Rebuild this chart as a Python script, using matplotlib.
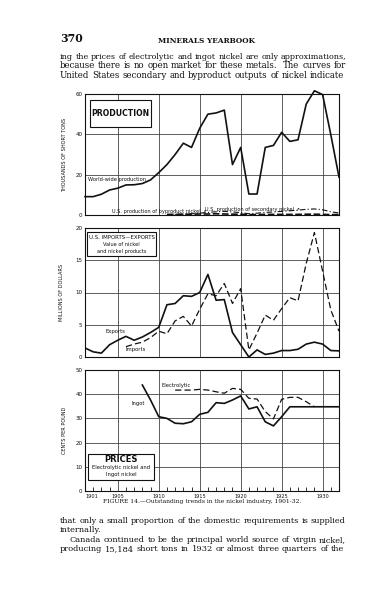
import matplotlib
matplotlib.use('Agg')
import matplotlib.pyplot as plt
import numpy as np

"""
Data read off the page (values estimated from the scan)
"""
years = list(range(1901, 1933))
world = [9.1, 9.1, 10.3, 12.4, 13.3, 14.9, 15.0, 15.6, 17.4, 21.0,
         25.0, 30.0, 35.6, 33.5, 43.0, 50.0, 50.6, 52.0, 25.0, 33.5,
         10.4, 10.4, 33.5, 34.5, 41.0, 36.5, 37.3, 55.0, 61.6, 59.7,
         39.8, 18.8]
us_years = list(range(1911, 1933))
secondary = [0.2, 0.3, 0.4, 0.6, 0.9, 1.3, 1.6, 1.8, 1.5, 1.2, 0.6,
             0.9, 1.3, 1.5, 1.8, 2.1, 2.4, 2.8, 3.0, 2.6, 1.6, 1.0]
byproduct = [0.3, 0.3, 0.4, 0.4, 0.5, 0.5, 0.6, 0.5, 0.4, 0.4, 0.2,
             0.2, 0.3, 0.3, 0.3, 0.3, 0.3, 0.4, 0.4, 0.3, 0.2, 0.2]

exports = [1.4, 0.8, 0.6, 1.9, 2.6, 3.2, 2.6, 3.1, 3.8, 4.6,
           8.1, 8.3, 9.5, 9.4, 10.0, 12.8, 8.8, 8.9, 3.8, 1.9,
           0.0, 1.1, 0.4, 0.6, 1.0, 1.0, 1.2, 2.0, 2.3, 2.0,
           1.0, 0.95]
imp_years = list(range(1906, 1933))
imports = [1.6, 2.0, 2.3, 3.0, 4.0, 3.6, 5.6, 6.3, 4.8, 7.4,
           9.8, 9.5, 11.4, 8.3, 10.6, 1.1, 3.7, 6.5, 5.7, 7.5,
           9.2, 8.7, 14.5, 19.3, 13.3, 7.3, 4.0]

ingot_years = list(range(1908, 1933))
ingot = [43.8, 37.6, 30.7, 30.0, 28.0, 27.8, 28.6, 31.7, 32.5, 36.5,
         36.2, 37.6, 39.3, 33.9, 34.8, 28.6, 26.9, 30.7, 34.8, 34.8,
         34.8, 34.8, 34.8, 34.8, 34.8]
elec_years = list(range(1912, 1930))
electrolytic = [41.7, 41.7, 41.7, 42.0, 41.7, 41.0, 40.4, 42.4, 42.0,
                38.3, 38.0, 32.8, 29.8, 37.9, 38.7, 38.7, 36.9, 34.8]

xtick_labels = ['1901', '1905', '1910', '1915', '1920', '1925', '1930']

"""
Page layout helpers (pixel coordinates of a 383x600 page)
"""
W, H = 383, 600
ink = '#111111'
serif = 'DejaVu Serif'
sans = 'DejaVu Sans'

fig = plt.figure(figsize=(W / 100, H / 100), dpi=100)
fig.patch.set_facecolor('white')

def box(x0, y0, x1, y1):
    return [x0 / W, 1 - y1 / H, (x1 - x0) / W, (y1 - y0) / H]

def px(x, y):
    return x / W, 1 - y / H

def panel(rect, ymax, ystep):
    ax = fig.add_axes(rect)
    ax.set_xlim(1901, 1932)
    ax.set_ylim(0, ymax)
    ax.set_xticks([1905, 1910, 1915, 1920, 1925, 1930])
    ax.set_yticks(np.arange(0, ymax + 0.1, ystep))
    ax.grid(True, color='#444444', lw=0.6)
    ax.tick_params(length=0, labelsize=4, pad=2, colors=ink)
    ax.set_xticklabels([])
    for s in ax.spines.values():
        s.set_linewidth(0.8)
        s.set_color(ink)
    return ax

def label_box(x0, y0, x1, y1):
    r = plt.Rectangle(px(x0, y1), (x1 - x0) / W, (y1 - y0) / H,
                      transform=fig.transFigure, fill=True, facecolor='white',
                      edgecolor=ink, lw=0.8, zorder=5)
    fig.add_artist(r)

# production
ax1 = panel(box(85, 94, 339, 215), 60, 20)
ax1.plot(years, world, color=ink, lw=1.2, clip_on=False)
ax1.plot(us_years, secondary, color=ink, lw=0.8, dashes=(5, 2, 1, 2))
ax1.plot(us_years, byproduct, color=ink, lw=1.2, dashes=(4, 1.5))
ax1.set_ylabel('THOUSANDS OF SHORT TONS', fontsize=3.6, labelpad=6, color=ink)
label_box(90, 100, 151, 127)
fig.text(*px(120.5, 114), 'PRODUCTION', fontsize=5.6, weight='bold',
         ha='center', va='center', family=sans, zorder=6, color=ink)
fig.text(*px(88, 180), 'World-wide production', fontsize=3.7, va='center', color=ink)
fig.text(*px(112, 211), 'U.S. production of byproduct nickel \u2197', fontsize=3.6,
         va='center', color=ink)
fig.text(*px(205, 209), 'U.S. production of secondary nickel \u2197', fontsize=3.6,
         va='center', color=ink)

# imports / exports
ax2 = panel(box(85, 228, 339, 357), 20, 5)
ax2.plot(years, exports, color=ink, lw=1.2)
ax2.plot(imp_years, imports, color=ink, lw=0.9, dashes=(5, 2.5))
ax2.set_ylabel('MILLIONS OF DOLLARS', fontsize=3.6, labelpad=8, color=ink)
label_box(87, 232, 156, 256)
fig.text(*px(121.5, 237.5), 'U.S. IMPORTS\u2014EXPORTS', fontsize=3.9,
         ha='center', va='center', zorder=6, color=ink)
fig.text(*px(121.5, 245), 'Value of nickel', fontsize=3.6,
         ha='center', va='center', zorder=6, color=ink)
fig.text(*px(121.5, 251), 'and nickel products', fontsize=3.6,
         ha='center', va='center', zorder=6, color=ink)
fig.text(*px(105, 332), 'Exports', fontsize=3.8, va='center', color=ink)
fig.text(*px(125, 350), 'Imports', fontsize=3.8, va='center', color=ink)

# prices
ax3 = panel(box(85, 370, 339, 491), 50, 10)
ax3.plot(ingot_years, ingot, color=ink, lw=1.2)
ax3.plot(elec_years, electrolytic, color=ink, lw=0.9, dashes=(5, 2.5))
ax3.set_ylabel('CENTS PER POUND', fontsize=3.6, labelpad=6, color=ink)
ax3.set_xticks(years, minor=True)
ax3.tick_params(axis='x', which='minor', direction='in', length=3, width=0.6,
                color=ink, bottom=True)
ax3.set_xticks([1901, 1905, 1910, 1915, 1920, 1925, 1930])
ax3.set_xticklabels(xtick_labels, fontsize=3.6)
ax3.get_xticklabels()[0].set_ha('left')
label_box(88, 454, 154, 480)
fig.text(*px(121, 460), 'PRICES', fontsize=6, weight='bold',
         ha='center', va='center', zorder=6, color=ink)
fig.text(*px(121, 468), 'Electrolytic nickel and', fontsize=3.8,
         ha='center', va='center', zorder=6, color=ink)
fig.text(*px(121, 474.5), 'Ingot nickel', fontsize=3.8,
         ha='center', va='center', zorder=6, color=ink)
fig.text(*px(162, 386), 'Electrolytic', fontsize=3.8, va='center', color=ink)
fig.text(*px(131, 403), 'Ingot', fontsize=3.8, va='center', color=ink)

fig.text(*px(202, 502), 'FIGURE 14.\u2014Outstanding trends in the nickel industry, 1901-32.',
         fontsize=4.3, ha='center', va='center', family=serif, color=ink)

# page text
fig.text(*px(60, 38), '370', fontsize=7.8, weight='bold', family=serif,
         va='center', color=ink)
fig.text(*px(206, 41), 'MINERALS YEARBOOK', fontsize=5.3, weight='bold',
         family=serif, ha='center', va='center', color=ink)

body = [(60, 348, 57, 'ing the prices of electrolytic and ingot nickel are only approximations,'),
        (60, 348, 66, 'because there is no open market for these metals.  The curves for'),
        (60, 348, 75, 'United States secondary and byproduct outputs of nickel indicate'),
        (60, 348, 521, 'that only a small proportion of the domestic requirements is supplied'),
        (60, None, 530, 'internally.'),
        (70, 348, 540, 'Canada continued to be the principal world source of virgin nickel,'),
        (60, 348, 549, 'producing 15,184 short tons in 1932 or almost three quarters of the')]

renderer = fig.canvas.get_renderer()

def measure(s, fs):
    t = fig.text(0, 0, s, fontsize=fs, family=serif)
    w = t.get_window_extent(renderer).width
    t.remove()
    return w

# each justified line is sized to fill the measure, words placed one by one
sizes = [7.0 * (x1 - x0) / measure(line, 7.0) for x0, x1, y, line in body if x1]
for x0, x1, y, line in body:
    fs = np.mean(sizes) if x1 is None else 7.0 * (x1 - x0) / measure(line, 7.0)
    pos = 0
    for w in line.split():
        start = line.index(w, pos)
        end = start + len(w)
        pos = end
        xw = x0 + measure(line[:end], fs) - measure(w, fs)
        fig.text(*px(xw, y), w, fontsize=fs, family=serif, va='center', color=ink)

fig.savefig('out.png', dpi=100, facecolor='white')
